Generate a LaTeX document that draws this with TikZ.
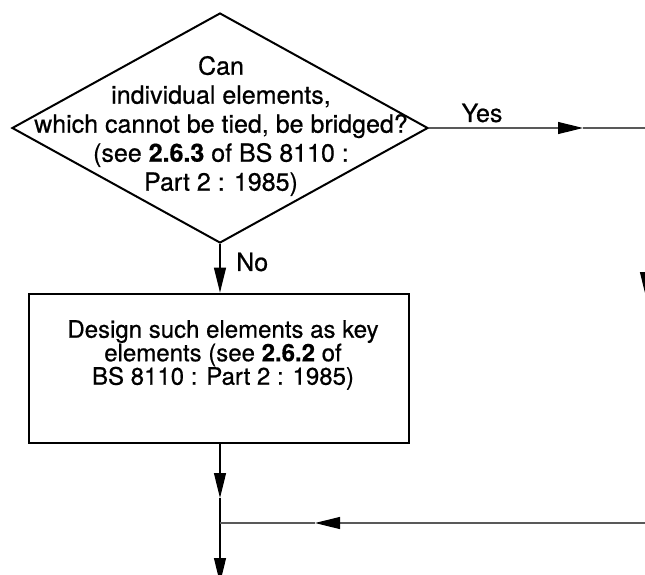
\documentclass[tikz,border=0pt]{standalone}
\usepackage{fontspec}
\setmainfont{TeX Gyre Heros}
\usetikzlibrary{arrows.meta,shapes.geometric}
\tikzset{
  x=1pt, y=-1pt,
  txt/.style={font=\fontsize{25}{29}\selectfont\addfontfeature{FakeBold=0.6}, align=center, inner sep=0},
  boxtxt/.style={font=\fontsize{24}{23.5}\selectfont\addfontfeature{FakeBold=0.6}, align=center, inner sep=0},
  decision/.style={draw, diamond, line width=2pt, minimum width=416pt, minimum height=230pt, inner sep=0},
  process/.style={draw, rectangle, line width=2.8pt, minimum width=380pt, minimum height=149pt, inner sep=0},
  conn/.style={line width=1.2pt, black},
  hconn/.style={line width=1.1pt, black!65},
  tip/.style={-{Triangle[length=25pt,width=12pt,color=black]}},
}
\begin{document}
\begin{tikzpicture}
\useasboundingbox (0,0) rectangle (645,574);
\clip (0,0) rectangle (645,574);
\node[decision] (d) at (220,128) {};
\node[txt] (dtext) at (221,126) {Can\\individual elements,\\which cannot be tied, be bridged?\\(see \textbf{2.6.3} of BS 8110 :\\Part 2 : 1985)};
\node[process] (b) at (219,368.5) {};
\node[boxtxt] (btext) at (223,355) {Design such elements as key\\elements (see \textbf{2.6.2} of\\BS 8110 : Part 2 : 1985)};
\node[txt] (yes) at (482,113) {Yes};
\node[txt, anchor=west] (no) at (236,262) {No};
% coordinates
\coordinate (y1) at (583,128);
\coordinate (yesEnd) at (670,128);
\coordinate (rTop) at (646,200);
\coordinate (rTip) at (646,297);
\coordinate (a1) at (220,498);
\coordinate (join) at (220,523);
\coordinate (out) at (220,583);
\coordinate (retEnd) at (670,523);
\coordinate (r1) at (315,523);
% connectors
\draw[conn, tip] (d.south) -- (d.south |- b.north);
\draw[hconn, tip] (d.east) -- (y1);
\draw[hconn] (y1) -- (yesEnd);
\draw[conn, tip] (rTop) -- (rTip);
\draw[conn, tip] (d.south |- b.south) -- (a1);
\draw[conn] (a1) -- (join);
\draw[conn, tip] (join) -- (out);
\draw[hconn, tip] (retEnd) -- (r1);
\draw[hconn] (r1) -- (join);
\end{tikzpicture}
\end{document}
